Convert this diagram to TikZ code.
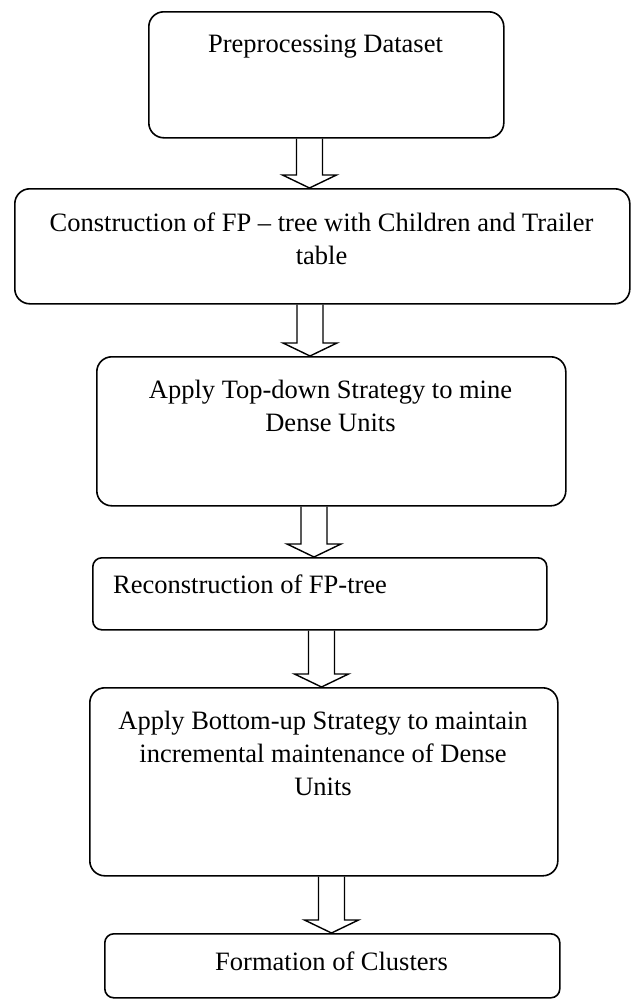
\documentclass[tikz,border=0pt]{standalone}
\usepackage{fontspec}
\setmainfont{Liberation Serif}
\usetikzlibrary{calc}
\tikzset{
  stepbox/.style={draw, line width=1.6pt, rounded corners=15pt, inner sep=0pt, anchor=north west},
  smallbox/.style={stepbox, rounded corners=9pt},
  steptext/.style={font=\fontsize{26.5}{33}\selectfont, align=center, inner sep=0pt, anchor=base},
  fatline/.style={line width=1.4pt, line join=miter}
}
\newcommand{\fatarrow}[3]{%
  \path (#2.south -| #1,0) coordinate (s) (#3.north -| #1,0) coordinate (e);
  \draw[fatline] ($(s)+(-13,0)$) |- ($(e)+(-27,-13)$) -- (e) -- ($(e)+(27,-13)$) -| ($(s)+(13,0)$);}
\begin{document}
\begin{tikzpicture}[x=1pt,y=-1pt]
 \useasboundingbox (0,0) rectangle (630,999);
 \node[stepbox, minimum width=355, minimum height=126] (pre) at (148,11) {};
 \node[steptext] (pretext) at (325.5,52) {Preprocessing Dataset};
 \node[stepbox, minimum width=615, minimum height=115] (fptree) at (14,188) {};
 \node[steptext] (fptreetext) at (321.5,264) {Construction of FP -- tree with Children and Trailer\\ table};
 \node[stepbox, minimum width=469, minimum height=149] (topdown) at (96,356) {};
 \node[steptext] (topdowntext) at (330.5,431) {Apply Top-down Strategy to mine\\ Dense Units};
 \node[smallbox, minimum width=454, minimum height=72] (recon) at (92,557) {};
 \node[steptext, anchor=base west] (recontext) at (113,593) {Reconstruction of FP-tree};
 \node[stepbox, minimum width=468, minimum height=188] (bottomup) at (89,687) {};
 \node[steptext] (bottomuptext) at (323,795) {Apply Bottom-up Strategy to maintain\\ incremental maintenance of Dense\\ Units};
 \node[smallbox, minimum width=455, minimum height=64] (clusters) at (104,933) {};
 \node[steptext] (clusterstext) at (331.5,970) {Formation of Clusters};
 \fatarrow{309.5}{pre}{fptree}
 \fatarrow{310}{fptree}{topdown}
 \fatarrow{314}{topdown}{recon}
 \fatarrow{321.5}{recon}{bottomup}
 \fatarrow{331.5}{bottomup}{clusters}
\end{tikzpicture}
\end{document}
